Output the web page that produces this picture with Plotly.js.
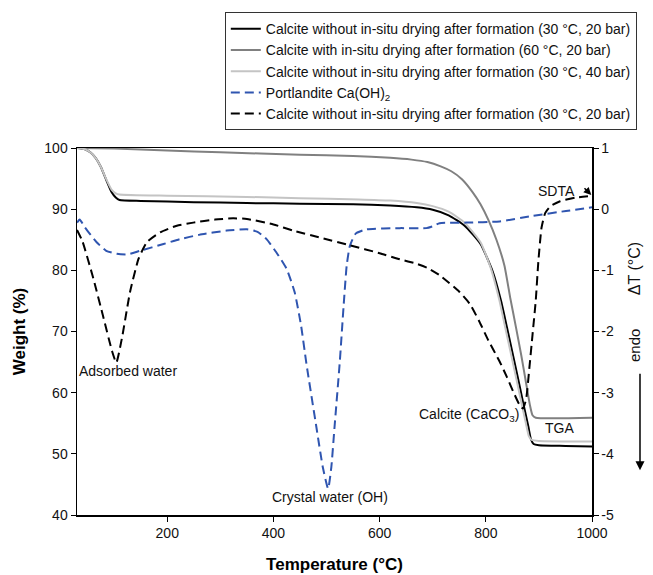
<!DOCTYPE html>
<html>
<head>
<meta charset="utf-8">
<script src="https://cdn.plot.ly/plotly-3.0.1.min.js"></script>
<style>html,body{margin:0;padding:0;background:#fff;}#chart{width:653px;height:575px;}</style>
</head>
<body>
<div id="chart"></div>
<script>
// TGA: Calcite without in-situ drying (30 °C, 20 bar) – weight %
const tBlack = [30,45,55,65,75,85,95,103,110,150,250,350,450,550,620,670,700,730,760,790,813,829,840,850,860,870,880,885,890,900,950,1000];
const wBlack = [100,99.8,99.3,98.4,96.9,94.8,92.8,91.9,91.5,91.35,91.15,91.0,90.9,90.8,90.6,90.3,89.9,89.0,87.3,84.3,79.8,74.9,70.6,66.6,62.6,58.5,54.5,52.4,51.6,51.4,51.3,51.2];

// TGA: Calcite with in-situ drying (60 °C, 20 bar)
const tDark = [30,100,200,300,450,550,620,660,690,715,735,755,775,790,805,820,835,846,857,867,876,883,888,894,1000];
const wDark = [100,99.9,99.6,99.3,98.9,98.7,98.4,98.1,97.7,97.0,96.2,94.9,92.8,90.8,88.2,85.0,80.8,75.5,70.6,66.0,61.5,58.0,56.3,55.9,55.9];

// TGA: Calcite without in-situ drying (30 °C, 40 bar)
const tLight = [30,45,55,65,75,85,95,103,110,200,350,450,560,620,670,700,730,760,790,810,825,836,846,856,866,876,881,886,900,1000];
const wLight = [100,99.8,99.3,98.4,96.9,94.9,93.2,92.6,92.4,92.2,92.0,91.8,91.6,91.4,91.0,90.5,89.6,87.8,84.6,80.2,75.3,70.9,66.9,62.9,58.8,54.8,52.9,52.3,52.1,52.0];

// SDTA: Portlandite Ca(OH)2 – ΔT °C
const tPort = [30,35,45,67,85,105,125,149,193,224,260,312,350,370,387,405,425,440,452,462,481,493,503,509,515,525,532,538,544,555,575,638,688,700,713,763,826,888,951,1000];
const dPort = [-0.22,-0.17,-0.3,-0.54,-0.68,-0.73,-0.74,-0.68,-0.57,-0.49,-0.42,-0.35,-0.33,-0.37,-0.49,-0.7,-0.98,-1.36,-1.9,-2.52,-3.57,-4.22,-4.57,-4.22,-3.57,-2.49,-1.6,-0.92,-0.6,-0.4,-0.33,-0.31,-0.31,-0.28,-0.23,-0.22,-0.2,-0.11,-0.03,0.03];

// SDTA: Calcite without in-situ drying (30 °C, 20 bar) – ΔT °C
const tCalDTA = [30,40,61,80,96,104,114.6,130,146,161.6,186.6,218,249,290,324,350,400,437,490,544,600,638,669,690,713,750,770,788,805,826,840,851,863,870,876,882,888,894,899,905,912,922,940,970,1000];
const dCalDTA = [-0.34,-0.52,-1.14,-1.78,-2.32,-2.51,-2.11,-1.35,-0.81,-0.54,-0.38,-0.27,-0.22,-0.17,-0.15,-0.16,-0.25,-0.35,-0.47,-0.59,-0.72,-0.82,-0.89,-0.96,-1.08,-1.35,-1.55,-1.84,-2.15,-2.49,-2.75,-2.97,-3.19,-3.26,-3.1,-2.6,-2.05,-1.5,-0.85,-0.3,-0.06,0.05,0.13,0.19,0.22];

const seriesNames = [
  'Calcite without in-situ drying after formation (30 °C, 20 bar)',
  'Calcite with in-situ drying after formation (60 °C, 20 bar)',
  'Calcite without in-situ drying after formation (30 °C, 40 bar)',
  'Portlandite Ca(OH)<sub>2</sub>',
  'Calcite without in-situ drying after formation (30 °C, 20 bar)'
];
const xTicks = [200,400,600,800,1000];
const dtTickVals = [-5,-4,-3,-2,-1,0,1];
const dtTickText = ['-5','-4','-3','-2','-1','0','1'];

const FONT = '"Liberation Sans", Arial, sans-serif';
const DASH = '9px,5px';

const traces = [
  {x:tBlack, y:wBlack, name:seriesNames[0], mode:'lines', line:{color:'#000000', width:2, shape:'spline', smoothing:0.5}, yaxis:'y'},
  {x:tDark, y:wDark, name:seriesNames[1], mode:'lines', line:{color:'#808080', width:2, shape:'spline', smoothing:0.5}, yaxis:'y'},
  {x:tLight, y:wLight, name:seriesNames[2], mode:'lines', line:{color:'#c4c4c4', width:2, shape:'spline', smoothing:0.5}, yaxis:'y'},
  {x:tPort, y:dPort, name:seriesNames[3], mode:'lines', line:{color:'#2f55b0', width:2, dash:DASH, shape:'spline', smoothing:0.5}, yaxis:'y2'},
  {x:tCalDTA, y:dCalDTA, name:seriesNames[4], mode:'lines', line:{color:'#000000', width:2, dash:DASH, shape:'spline', smoothing:0.5}, yaxis:'y2'}
];

const layout = {
  width:653, height:575,
  margin:{l:77, r:61, t:145, b:60},
  paper_bgcolor:'#ffffff', plot_bgcolor:'#ffffff',
  font:{family:FONT, size:14, color:'#111'},
  showlegend:true,
  legend:{x:0.287, y:1.37, xanchor:'left', yanchor:'top', bordercolor:'#333', borderwidth:1, bgcolor:'#fff', font:{family:FONT, size:14, color:'#111'}, tracegroupgap:0},
  xaxis:{range:[30,1000], tickvals:xTicks, ticks:'outside', ticklen:5, tickwidth:1, tickcolor:'#000',
    showline:true, linecolor:'#000', linewidth:1.5, mirror:true, showgrid:false, zeroline:false,
    tickfont:{family:FONT, size:14, color:'#111'},
    title:{text:'Temperature (°C)', font:{family:FONT, size:17, color:'#000', weight:'bold'}, standoff:18}},
  yaxis:{range:[40,100], dtick:10, ticks:'outside', ticklen:5, tickwidth:1, tickcolor:'#000',
    showline:true, linecolor:'#000', linewidth:1.5, showgrid:false, zeroline:false,
    tickfont:{family:FONT, size:14, color:'#111'},
    title:{text:'Weight (%)', font:{family:FONT, size:17, color:'#000', weight:'bold'}, standoff:14}},
  yaxis2:{range:[-5,1], tickvals:dtTickVals, ticktext:dtTickText, overlaying:'y', side:'right', ticks:'outside', ticklen:5, tickwidth:1, tickcolor:'#000',
    showline:true, linecolor:'#000', linewidth:1.5, showgrid:false, zeroline:false,
    tickfont:{family:FONT, size:14, color:'#111'}},
  annotations:[
    {x:125.5, y:63.5, xref:'x', yref:'y', text:'Adsorbed water', showarrow:false, font:{family:FONT, size:14, color:'#111'}},
    {x:506, y:42.9, xref:'x', yref:'y', text:'Crystal water (OH)', showarrow:false, font:{family:FONT, size:14, color:'#111'}},
    {x:866, y:56.4, xref:'x', yref:'y', xanchor:'right', text:'Calcite (CaCO<sub>3</sub>)', showarrow:false, font:{family:FONT, size:14, color:'#111'}},
    {x:938, y:54.3, xref:'x', yref:'y', text:'TGA', showarrow:false, font:{family:FONT, size:14, color:'#111'}},
    {x:933, y:92.9, xref:'x', yref:'y', text:'SDTA', showarrow:false, font:{family:FONT, size:14, color:'#111'}},
    {x:1000, y:0.22, xref:'x', yref:'y2', text:'', showarrow:true, ax:-9, ay:-9, arrowhead:2, arrowsize:1, arrowwidth:1.5, arrowcolor:'#000', standoff:1},
    {x:1.103, y:0.749, xref:'paper', yref:'paper', text:'ΔT (°C)', textangle:-90, showarrow:false, font:{family:FONT, size:16, color:'#111'}},
    {x:1.103, y:0.462, xref:'paper', yref:'paper', text:'endo', textangle:-90, showarrow:false, font:{family:FONT, size:15, color:'#111'}},
    {x:1.0932, y:0.1216, xref:'paper', yref:'paper', text:'', showarrow:true, ax:0, ay:-98, arrowhead:2, arrowsize:1.2, arrowwidth:1.5, arrowcolor:'#000'}
  ]
};

Plotly.newPlot('chart', traces, layout, {displayModeBar:false, staticPlot:true});
</script>
</body>
</html>
